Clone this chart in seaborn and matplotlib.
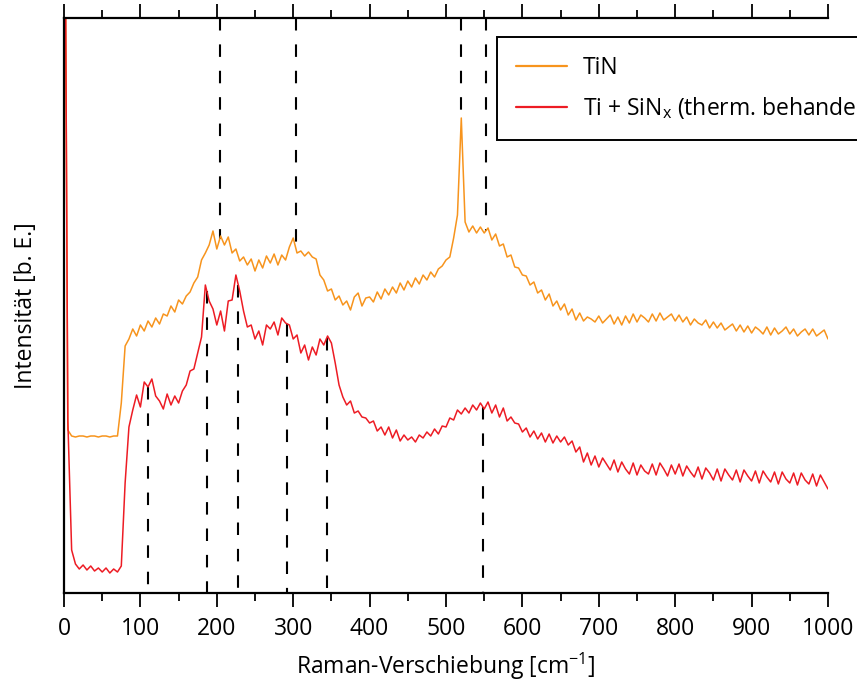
import numpy as np
import pandas as pd
import matplotlib
matplotlib.use("Agg")
import matplotlib.pyplot as plt
import seaborn as sns

# Raman shift grid [cm^-1]
shift = list(range(0, 1001, 5))

# TiN spectrum (arbitrary units)
tin = [
    900, 163, 157, 156, 157, 157, 156, 157, 157, 156,
    157, 157, 156, 157, 157, 190, 247, 254, 264, 257,
    268, 262, 272, 266, 275, 269, 279, 277, 287, 281,
    293, 289, 297, 301, 310, 316, 333, 340, 348, 362,
    344, 357, 348, 356, 340, 344, 332, 336, 328, 334,
    322, 333, 325, 337, 330, 339, 328, 338, 333, 346,
    355, 340, 342, 337, 341, 336, 334, 318, 313, 302,
    304, 293, 297, 288, 292, 283, 296, 300, 287, 295,
    296, 291, 301, 294, 304, 298, 306, 300, 310, 303,
    312, 306, 315, 309, 318, 313, 321, 316, 324, 327,
    333, 336, 355, 378, 475, 371, 361, 367, 360, 366,
    360, 365, 353, 359, 347, 349, 336, 338, 326, 325,
    318, 317, 308, 311, 300, 303, 293, 299, 287, 292,
    283, 289, 278, 284, 273, 280, 272, 276, 274, 271,
    277, 270, 274, 278, 269, 276, 268, 277, 270, 279,
    271, 278, 275, 271, 279, 272, 280, 273, 276, 279,
    272, 278, 271, 276, 268, 274, 270, 268, 273, 265,
    271, 265, 270, 263, 266, 269, 262, 268, 261, 267,
    260, 266, 263, 259, 266, 258, 265, 259, 262, 266,
    259, 264, 257, 261, 264, 258, 264, 257, 260, 263,
    254,
]

# Ti + SiNx (annealed) spectrum (arbitrary units)
ti_sinx = [
    900, 173, 43, 29, 24, 28, 23, 27, 22, 25,
    21, 25, 20, 24, 21, 27, 110, 166, 183, 198,
    186, 211, 206, 214, 197, 192, 184, 199, 188, 197,
    190, 202, 208, 222, 224, 240, 256, 308, 292, 284,
    268, 282, 262, 292, 293, 318, 302, 282, 266, 268,
    254, 262, 248, 268, 264, 271, 258, 275, 270, 268,
    254, 258, 240, 248, 233, 246, 238, 254, 248, 257,
    250, 230, 208, 196, 188, 192, 180, 182, 176, 175,
    170, 172, 162, 166, 158, 166, 155, 163, 152, 158,
    153, 156, 151, 158, 155, 161, 157, 164, 159, 167,
    166, 175, 173, 183, 179, 185, 180, 188, 183, 190,
    184, 191, 180, 188, 176, 185, 172, 176, 170, 169,
    161, 165, 156, 162, 154, 160, 151, 159, 150, 157,
    151, 156, 148, 152, 141, 146, 131, 140, 128, 137,
    126, 135, 129, 123, 133, 121, 131, 124, 119, 130,
    118, 128, 122, 119, 129, 118, 130, 124, 117, 128,
    119, 129, 117, 127, 121, 116, 126, 114, 125, 120,
    113, 124, 112, 124, 118, 113, 123, 111, 123, 117,
    112, 122, 110, 122, 116, 111, 121, 109, 121, 114,
    110, 120, 108, 120, 113, 109, 119, 107, 118, 111,
    104,
]

# Band positions marked for each sample [cm^-1]
tin_bands = [204, 304, 520, 552]
ti_sinx_bands = [110, 187, 228, 292, 344, 548]

label_tin = "TiN"
label_ti_sinx = "Ti + SiN$_\\mathregular{x}$ (therm. behandelt)"
xlabel = "Raman-Verschiebung [cm$^\\mathregular{-1}$]"
ylabel = "Intensität [b. E.]"

c_tin = "#F7941D"
c_ti = "#ED1C24"

sns.set_style("ticks")
plt.rcParams["font.family"] = ["Open Sans", "DejaVu Sans"]
plt.rcParams["mathtext.default"] = "regular"
plt.rcParams["lines.scale_dashes"] = False
plt.rcParams["text.color"] = "black"
plt.rcParams["axes.labelcolor"] = "black"
plt.rcParams["xtick.color"] = "black"

df = pd.DataFrame({
    "shift": shift * 2,
    "intensity": tin + ti_sinx,
    "sample": [label_tin] * len(shift) + [label_ti_sinx] * len(shift),
})

fig = plt.figure(figsize=(8.57, 6.8), dpi=100)
ax = fig.add_axes([64 / 857, 1 - 593 / 680, (828 - 64) / 857, (593 - 18) / 680])

ymax = 575
sns.lineplot(data=df, x="shift", y="intensity", hue="sample",
             palette={label_tin: c_tin, label_ti_sinx: c_ti},
             hue_order=[label_tin, label_ti_sinx],
             linewidth=1.1, ax=ax, legend=False, estimator=None, sort=False)

# Dashed band markers
dash = (0, (9, 10))
for b in tin_bands:
    y0 = np.interp(b, shift, tin)
    ax.plot([b, b], [ymax, y0], color="black", lw=1.5, linestyle=dash, zorder=1)
for b in ti_sinx_bands:
    y0 = np.interp(b, shift, ti_sinx)
    ax.plot([b, b], [y0, 0], color="black", lw=1.5, linestyle=dash, zorder=1)

ax.set_xlim(0, 1000)
ax.set_ylim(0, ymax)
ax.set_yticks([])
ax.set_xticks(range(0, 1001, 100))
ax.set_xticks(range(50, 1000, 100), minor=True)

for side in ["left", "bottom", "top"]:
    ax.spines[side].set_linewidth(1.6)
    ax.spines[side].set_color("black")
ax.spines["right"].set_visible(False)

fs = 16.5
ax.tick_params(axis="x", which="both", top=True, bottom=True, direction="out",
               width=1.3, color="black", labelsize=fs, pad=7)
ax.tick_params(axis="x", which="major", length=10)
ax.tick_params(axis="x", which="minor", length=5.5)

ax.set_xlabel(xlabel, fontsize=fs, labelpad=7)
ax.set_ylabel(ylabel, fontsize=fs, labelpad=19)

handles = [
    plt.Line2D([], [], color=c_tin, lw=1.6),
    plt.Line2D([], [], color=c_ti, lw=1.6),
]
leg = ax.legend(handles, [label_tin, label_ti_sinx], loc="upper left",
                bbox_to_anchor=((497 - 64) / 764, (593 - 37) / 575),
                fontsize=fs, frameon=True, fancybox=False, framealpha=1,
                edgecolor="black", handlelength=2.2, handletextpad=0.7,
                borderpad=0.85, labelspacing=0.62, borderaxespad=0)
leg.get_frame().set_linewidth(1.4)

fig.savefig("out.png", dpi=100)
